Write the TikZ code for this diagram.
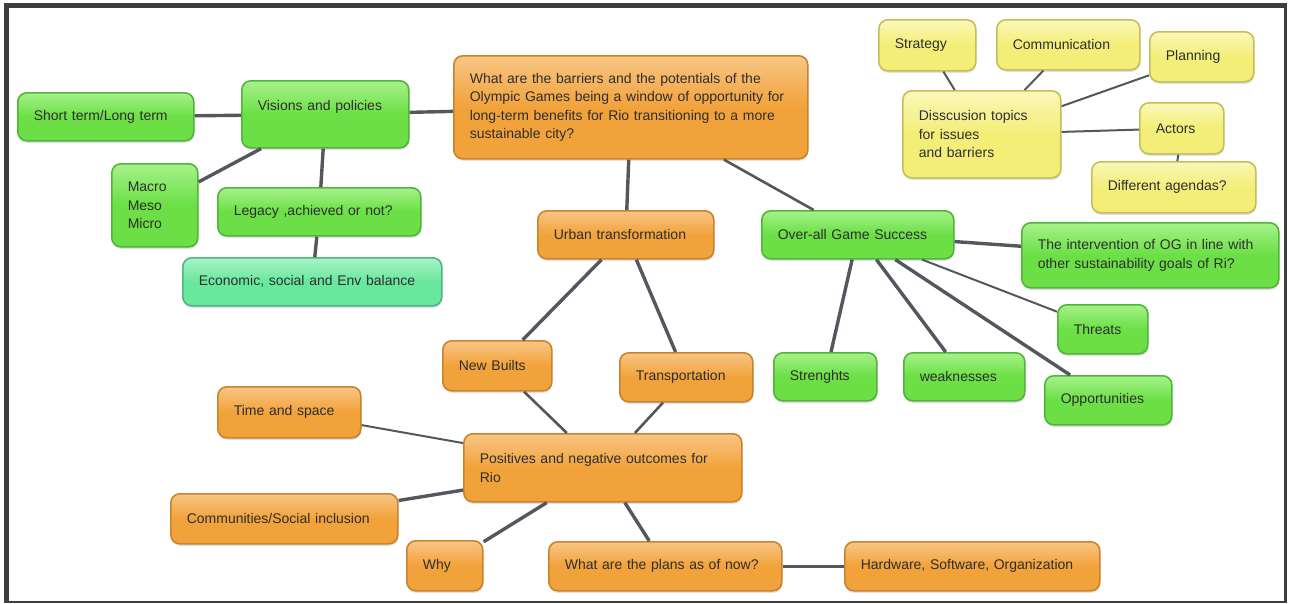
\documentclass[tikz,border=0pt]{standalone}
\usepackage{fontspec}
\setmainfont{Liberation Sans}
\usetikzlibrary{shadows}

\definecolor{framegray}{HTML}{3E3E3E}
\definecolor{linkgray}{HTML}{53585E}
\definecolor{inkgray}{HTML}{2E2E2E}
\definecolor{orfill}{HTML}{F2A23A}
\definecolor{ortop}{HTML}{F8C685}
\definecolor{oredge}{HTML}{C8842C}
\definecolor{grfill}{HTML}{6BDF45}
\definecolor{grtop}{HTML}{A6F28A}
\definecolor{gredge}{HTML}{50B53A}
\definecolor{yefill}{HTML}{F3EE78}
\definecolor{yetop}{HTML}{FAF8B8}
\definecolor{yeedge}{HTML}{C6BE58}
\definecolor{tefill}{HTML}{68E89C}
\definecolor{tetop}{HTML}{A8F4C8}
\definecolor{teedge}{HTML}{4EB67E}

\tikzset{
  bubble/.style={rounded corners=9pt, line width=1.6pt, anchor=north west,
    inner xsep=16pt, inner ysep=0pt, align=left, text=inkgray,
    font=\fontsize{14}{18.5}\selectfont,
    drop shadow={opacity=0.25, shadow xshift=0.5pt, shadow yshift=-2pt}},
  orbox/.style={bubble, draw=oredge, top color=ortop, bottom color=orfill, middle color=orfill},
  grbox/.style={bubble, draw=gredge, top color=grtop, bottom color=grfill, middle color=grfill},
  yebox/.style={bubble, draw=yeedge, top color=yetop, bottom color=yefill, middle color=yefill},
  tebox/.style={bubble, draw=teedge, top color=tetop, bottom color=tefill, middle color=tefill},
  link/.style={draw=linkgray, line width=3.4pt},
  thinlink/.style={draw=linkgray, line width=2pt},
}

\begin{document}
\begin{tikzpicture}[x=1pt,y=-1pt]

	\useasboundingbox (0,0) rectangle (1289,603);

	% frame
	\fill[framegray] (4,3) rectangle (1287,603);
	\fill[white] (9,8) rectangle (1284,601);

	% central question
	\node[orbox, text width=322pt, minimum height=103pt] (question) at (453,55)
		{What are the barriers and the potentials of the\\Olympic Games being a window of opportunity for\\long-term benefits for Rio transitioning to a more\\sustainable city?};

	% visions branch
	\node[grbox, text width=135pt, minimum height=67pt, text depth=17pt] (visions) at (241,80) {Visions and policies};
	\node[grbox, text width=144pt, minimum height=48pt] (shortlong) at (17,92) {Short term/Long term};
	\node[grbox, text width=54pt, minimum height=83pt] (scales) at (111,163) {Macro\\Meso\\Micro};
	\node[grbox, text width=171pt, minimum height=48pt] (legacy) at (217,187) {Legacy ,achieved or not?};
	\node[tebox, text width=227pt, minimum height=48pt] (balance) at (182,257) {Economic, social and Env balance};

	% discussion topics
	\node[yebox, text width=126pt, minimum height=87pt] (topics) at (902,90) {Disscusion topics\\for issues\\and barriers};
	\node[yebox, text width=65pt, minimum height=51pt] (strategy) at (878,19) {Strategy};
	\node[yebox, text width=111pt, minimum height=50pt] (communic) at (996,19) {Communication};
	\node[yebox, text width=72pt, minimum height=50pt] (planning) at (1149,31) {Planning};
	\node[yebox, text width=52pt, minimum height=51pt] (actors) at (1139,102) {Actors};
	\node[yebox, text width=132pt, minimum height=51pt] (agendas) at (1091,161) {Different agendas?};

	% game success
	\node[grbox, text width=160pt, minimum height=48pt] (success) at (761,210) {Over-all Game Success};
	\node[grbox, text width=225pt, minimum height=65pt] (intervention) at (1021,222) {The intervention of OG in line with\\other sustainability goals of Ri?};
	\node[grbox, text width=58pt, minimum height=49pt] (threats) at (1057,304) {Threats};
	\node[grbox, text width=71pt, minimum height=48pt] (strengths) at (773,352) {Strenghts};
	\node[grbox, text width=89pt, minimum height=48pt] (weaknesses) at (903,352) {weaknesses};
	\node[grbox, text width=95pt, minimum height=49pt] (opportun) at (1044,375) {Opportunities};

	% urban transformation
	\node[orbox, text width=144pt, minimum height=48pt] (urban) at (537,210) {Urban transformation};
	\node[orbox, text width=77pt, minimum height=50pt] (newbuilts) at (442,340) {New Builts};
	\node[orbox, text width=101pt, minimum height=49pt] (transport) at (619,352) {Transportation};
	\node[orbox, text width=246pt, minimum height=68pt] (outcomes) at (463,433) {Positives and negative outcomes for\\Rio};
	\node[orbox, text width=111pt, minimum height=51pt] (timespace) at (217,386) {Time and space};
	\node[orbox, text width=195pt, minimum height=50pt] (inclusion) at (170,493) {Communities/Social inclusion};
	\node[orbox, text width=44pt, minimum height=50pt] (why) at (406,540) {Why};
	\node[orbox, text width=201pt, minimum height=49pt] (plans) at (548,541) {What are the plans as of now?};
	\node[orbox, text width=223pt, minimum height=49pt] (hardware) at (844,541) {Hardware, Software, Organization};

	% links
	\draw[link] (shortlong) -- (visions);
	\draw[link] (scales) -- (visions);
	\draw[link] (visions) -- (legacy);
	\draw[link] (legacy) -- (balance);
	\draw[link] (visions) -- (question);
	\draw[link] (question) -- (urban);
	\draw[thinlink, line width=2.6pt] (question) -- (success);

	\draw[thinlink] (topics) -- (strategy);
	\draw[thinlink] (topics) -- (communic);
	\draw[thinlink] (topics) -- (planning);
	\draw[thinlink] (topics) -- (actors);
	\draw[thinlink] (actors) -- (agendas);

	\draw[link] (success) -- (intervention);
	\draw[link] (success) -- (strengths);
	\draw[link] (success) -- (weaknesses);
	\draw[thinlink] (success) -- (threats);
	\draw[link] (success) -- (opportun);

	\draw[link] (urban) -- (newbuilts);
	\draw[link] (urban) -- (transport);
	\draw[thinlink, line width=2.6pt] (newbuilts) -- (outcomes);
	\draw[thinlink, line width=2.6pt] (transport) -- (outcomes);
	\draw[thinlink] (timespace) -- (outcomes);
	\draw[link] (inclusion) -- (outcomes);
	\draw[link] (why) -- (outcomes);
	\draw[link] (plans) -- (outcomes);
	\draw[link] (plans) -- (hardware);

\end{tikzpicture}
\end{document}
